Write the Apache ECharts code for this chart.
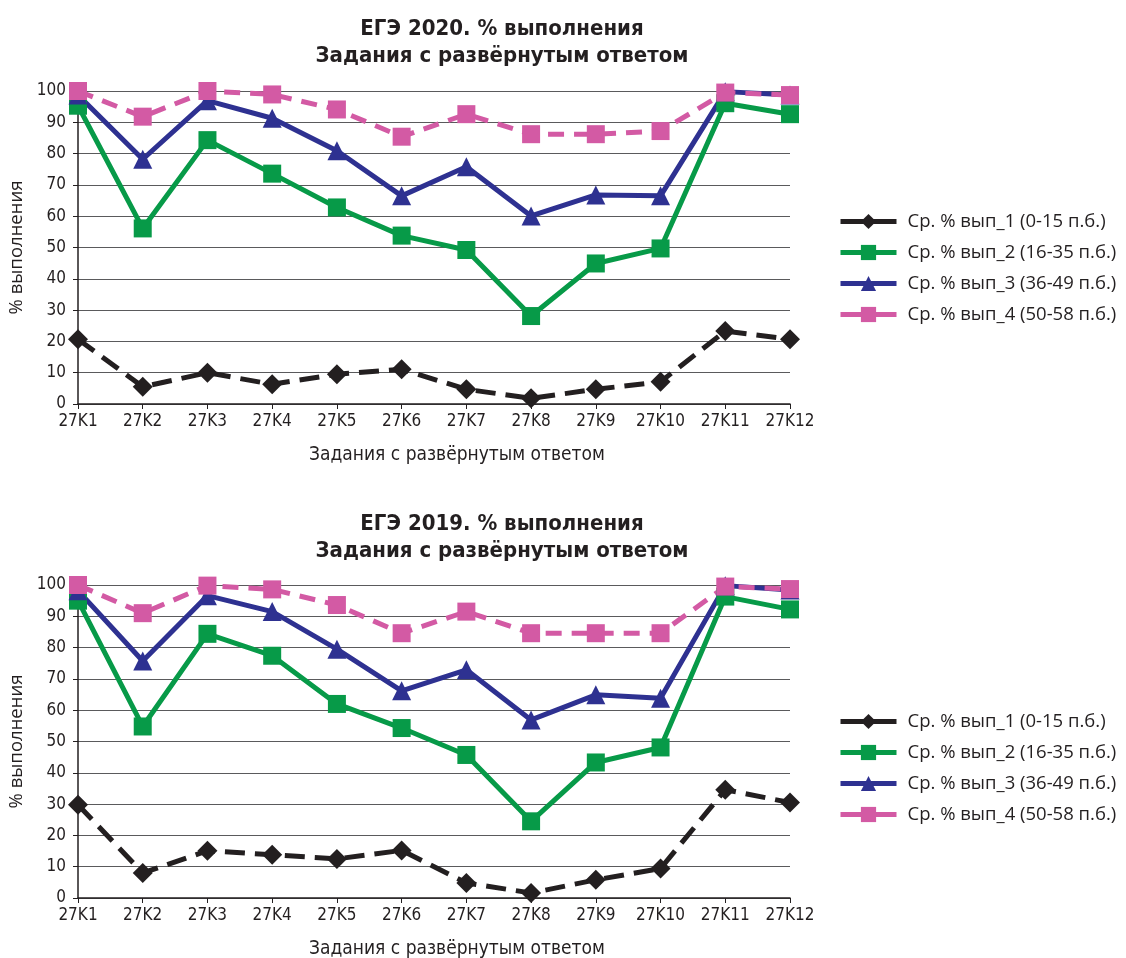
<!DOCTYPE html>
<html>
<head>
<meta charset="utf-8">
<script src="https://cdn.jsdelivr.net/npm/echarts@6/dist/echarts.min.js"></script>
<style>
  html, body { margin: 0; padding: 0; background: #fff; }
  #chart { width: 1126px; height: 958px; }
</style>
</head>
<body>
<div id="chart"></div>
<script>
// категории заданий
var tasks = ['27K1', '27K2', '27K3', '27K4', '27K5', '27K6', '27K7', '27K8', '27K9', '27K10', '27K11', '27K12'];
var seriesNames = ['Ср. % вып_1 (0-15 п.б.)', 'Ср. % вып_2 (16-35 п.б.)', 'Ср. % вып_3 (36-49 п.б.)', 'Ср. % вып_4 (50-58 п.б.)'];
var titles = ['ЕГЭ 2020. % выполнения\nЗадания с развёрнутым ответом', 'ЕГЭ 2019. % выполнения\nЗадания с развёрнутым ответом'];
var xName = 'Задания с развёрнутым ответом';
var yName = '% выполнения';

// ЕГЭ 2020
var g1_2020 = [20.7, 5.5, 10.0, 6.3, 9.5, 11.1, 4.7, 1.8, 4.7, 7.1, 23.3, 20.7];
var g2_2020 = [95.3, 56.1, 84.3, 73.6, 62.8, 53.8, 49.2, 28.1, 44.9, 49.7, 96.1, 92.6];
var g3_2020 = [98.7, 78.2, 96.9, 91.3, 80.9, 66.5, 75.8, 60.1, 66.8, 66.5, 99.8, 98.7];
var g4_2020 = [100, 91.8, 100, 98.9, 94.1, 85.4, 92.6, 86.2, 86.2, 87.2, 99.5, 98.7];

// ЕГЭ 2019
var g1_2019 = [29.8, 8.0, 15.1, 13.8, 12.5, 15.2, 4.8, 1.6, 5.8, 9.4, 34.6, 30.5];
var g2_2019 = [95.0, 54.8, 84.4, 77.4, 62.0, 54.3, 45.7, 24.5, 43.3, 48.1, 96.3, 92.2];
var g3_2019 = [98.2, 75.7, 96.6, 91.5, 79.5, 66.2, 72.9, 56.9, 64.9, 63.8, 99.8, 98.4];
var g4_2019 = [100, 91.0, 99.8, 98.6, 93.6, 84.6, 91.5, 84.6, 84.6, 84.6, 99.5, 98.7];

var colors = ['#231f20', '#079a48', '#2e3191', '#d35aa4'];
var symbols = ['diamond', 'rect', 'triangle', 'rect'];
var symbolSizes = [20, 18, 19, 18];
var dashes = [[20, 10], 'solid', 'solid', [16, 10]];
var narrow = '"Liberation Sans Narrow", "DejaVu Sans Condensed", sans-serif';
var regular = '"Open Sans", "Noto Sans", sans-serif';

function makeSeries(idx, data) {
  return data.map(function (d, i) {
    return {
      name: seriesNames[i],
      type: 'line',
      xAxisIndex: idx,
      yAxisIndex: idx,
      data: d,
      symbol: symbols[i],
      symbolSize: symbolSizes[i],
      showAllSymbol: true,
      animation: false,
      color: colors[i],
      lineStyle: { width: 5, type: dashes[i], color: colors[i] },
      itemStyle: { color: colors[i] }
    }
  })
}

function makeX(idx) {
  return {
    type: 'category',
    gridIndex: idx,
    data: tasks,
    boundaryGap: false,
    name: xName,
    nameLocation: 'middle',
    nameGap: 42,
    nameTextStyle: { fontFamily: narrow, fontSize: 19, color: '#231f20', padding: [0, 0, 0, 46] },
    axisLine: { lineStyle: { color: '#231f20', width: 1.5 } },
    axisTick: { show: true, length: 5, lineStyle: { color: '#231f20' } },
    axisLabel: { fontFamily: narrow, fontSize: 17, color: '#231f20', margin: 9 }
  }
}

function makeY(idx) {
  return {
    type: 'value',
    gridIndex: idx,
    min: 0,
    max: 100,
    interval: 10,
    name: yName,
    nameLocation: 'middle',
    nameGap: 51,
    nameRotate: 90,
    nameTextStyle: { fontFamily: regular, fontSize: 18.5, color: '#231f20' },
    axisLine: { show: true, lineStyle: { color: '#231f20', width: 1.5 } },
    axisTick: { show: true, length: 5, lineStyle: { color: '#231f20' } },
    axisLabel: { fontFamily: narrow, fontSize: 17, color: '#231f20', margin: 12 },
    splitLine: { lineStyle: { color: '#5a5a5c', width: 1.2 } }
  }
}

function makeLegend(idx, top) {
  return {
    orient: 'vertical',
    left: 833,
    top: top,
    itemWidth: 56,
    itemHeight: 19,
    itemGap: 12,
    data: seriesNames.map(function (n) { return { name: n } }),
    lineStyle: { type: 'solid', width: 5 },
    textStyle: { fontFamily: regular, fontSize: 18.5, color: '#231f20', padding: [0, 0, 0, 6] },
    seriesIndex: idx
  }
}

var chart = echarts.init(document.getElementById('chart'));
chart.setOption({
  backgroundColor: '#fff',
  title: [
    { text: titles[0], left: 497, top: 11, textAlign: 'center',
      textStyle: { fontFamily: narrow, fontWeight: 'bold', fontSize: 22, lineHeight: 27, color: '#231f20' } },
    { text: titles[1], left: 497, top: 506, textAlign: 'center',
      textStyle: { fontFamily: narrow, fontWeight: 'bold', fontSize: 22, lineHeight: 27, color: '#231f20' } }
  ],
  legend: [makeLegend(0, 207), makeLegend(1, 707)],
  grid: [
    { left: 78, width: 712, top: 91, height: 313, outerBoundsMode: 'none', containLabel: false },
    { left: 78, width: 712, top: 585, height: 313, outerBoundsMode: 'none', containLabel: false }
  ],
  xAxis: [makeX(0), makeX(1)],
  yAxis: [makeY(0), makeY(1)],
  series: makeSeries(0, [g1_2020, g2_2020, g3_2020, g4_2020])
    .concat(makeSeries(1, [g1_2019, g2_2019, g3_2019, g4_2019]))
});
</script>
</body>
</html>
